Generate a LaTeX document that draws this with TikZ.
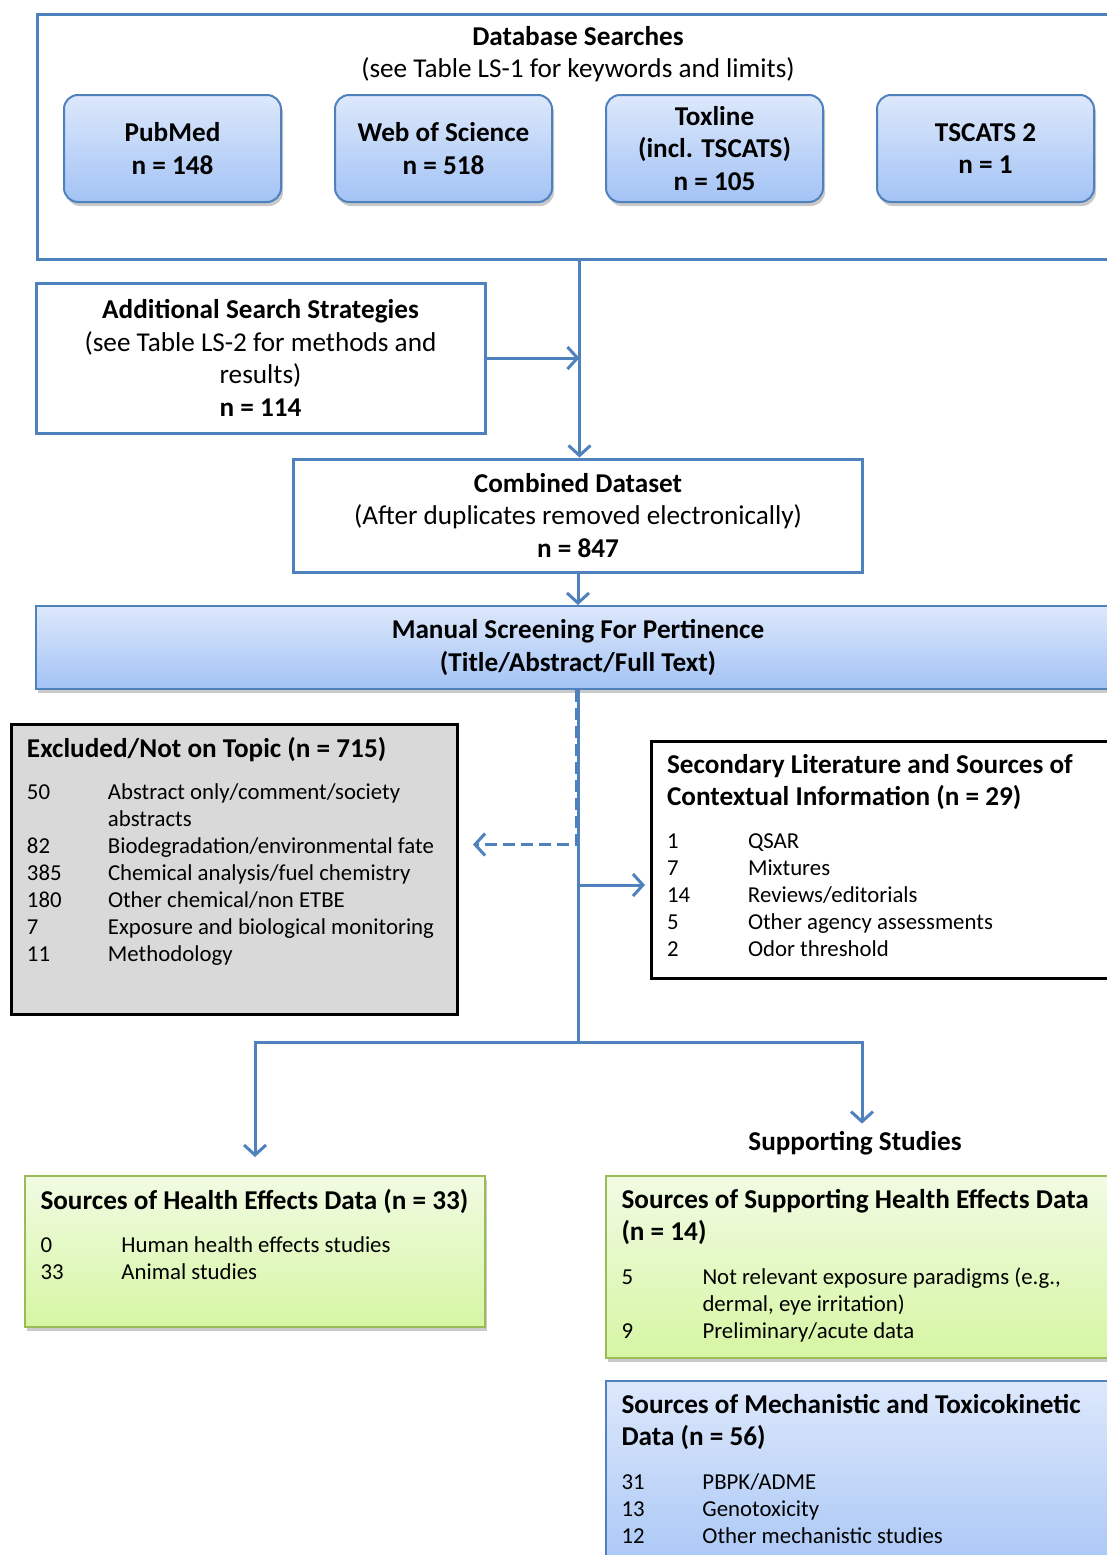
\documentclass[tikz,border=0pt]{standalone}
\usepackage{fontspec}
\setmainfont{Carlito}
\usetikzlibrary{
    arrows.meta,
    positioning,
    shadows
}
\definecolor{flowblue}{HTML}{4F81BD}
\definecolor{paleblue}{HTML}{DDE8FB}
\definecolor{midblue}{HTML}{A3C3F5}
\definecolor{palegreen}{HTML}{F1FBE3}
\definecolor{limegreen}{HTML}{D6F6A3}
\definecolor{olivegreen}{HTML}{9BBB59}
\definecolor{panelgrey}{HTML}{D9D9D9}
\tikzset{
    % Fonts
    big text/.style={font=\fontsize{27.2}{32.5}\selectfont},
    big bold/.style={font=\fontsize{27.2}{32.5}\selectfont\bfseries},
    %
    % Boxes
    soft shadow/.style={drop shadow={shadow xshift=2pt,shadow yshift=-4pt,opacity=.35,fill=black!60}},
    frame box/.style={draw=flowblue,line width=3pt,fill=white,align=center,big text},
    source box/.style={draw=flowblue,line width=2pt,rounded corners=14pt,top color=paleblue,bottom color=midblue,
        soft shadow,minimum width=217pt,minimum height=107pt,align=center,big bold},
    list panel/.style={anchor=north west,inner xsep=15.5pt,inner ysep=13pt,font=\fontsize{22.8}{27}\selectfont},
    grey panel/.style={list panel,draw=black,line width=3pt,fill=panelgrey},
    white panel/.style={list panel,draw=black,line width=3pt,fill=white},
    green panel/.style={list panel,draw=olivegreen,line width=2pt,top color=palegreen,bottom color=limegreen,soft shadow},
    blue panel/.style={list panel,draw=flowblue,line width=2pt,top color=paleblue,bottom color=midblue,soft shadow},
    %
    % Connectors
    link/.style={draw=flowblue,line width=3pt},
    flow/.style={link,-{Straight Barb[length=10pt,width=22pt]}},
    dashed flow/.style={flow,dash pattern=on 12pt off 6pt}
}
\newcommand\panelbox[3]{\parbox[t][#2][t]{#1}{\raggedright #3}}
\newcommand\paneltitle[1]{{\fontsize{27.2}{32.5}\selectfont\bfseries #1}}
\newcommand\listrow[2]{\makebox[81pt][l]{#1}#2}

\begin{document}
\begin{tikzpicture}[x=1pt,y=-1pt]
    \useasboundingbox (0,0) rectangle (1107,1555);
    \clip (0,0) rectangle (1107,1555);

    % database searches
    \node[frame box,anchor=north west,minimum width=1084pt,minimum height=245pt] (db) at (36,13) {};
    \node[big text,align=center] (dbhead) at (578,54) {\textbf{Database Searches}\\(see Table LS-1 for keywords and limits)};
    \node[source box] (pubmed) at (172.5,148.5) {PubMed\\n = 148};
    \node[source box,right=52pt of pubmed] (wos) {Web of Science\\n = 518};
    \node[source box,right=52pt of wos] (toxline) {Toxline\\(incl. TSCATS)\\n = 105};
    \node[source box,right=52pt of toxline] (tscats) {TSCATS 2\\n = 1};

    \node[frame box,minimum width=449pt,minimum height=150pt] (add) at (260.5,358)
        {\textbf{Additional Search Strategies}\\(see Table LS-2 for methods and\\results)\\\textbf{n = 114}};
    \node[frame box,minimum width=569pt,minimum height=113pt] (comb) at (578,515.5)
        {\textbf{Combined Dataset}\\(After duplicates removed electronically)\\\textbf{n = 847}};
    \node[draw=flowblue,line width=2pt,top color=paleblue,bottom color=midblue,soft shadow,
        minimum width=1084pt,minimum height=83pt,align=center,big bold] (screen) at (578,647.5)
        {Manual Screening For Pertinence\\(Title/Abstract/Full Text)};

    % screening results
    \node[grey panel] (excl) at (10,723) {\panelbox{415pt}{264pt}{%
        \paneltitle{Excluded/Not on Topic (n = 715)}\\[15pt]
        \listrow{50}{Abstract only/comment/society}\\
        \listrow{}{abstracts}\\
        \listrow{82}{Biodegradation/environmental fate}\\
        \listrow{385}{Chemical analysis/fuel chemistry}\\
        \listrow{180}{Other chemical/non ETBE}\\
        \listrow{7}{Exposure and biological monitoring}\\
        \listrow{11}{Methodology}}};
    \node[white panel] (sec) at (650,740) {\panelbox{439pt}{211pt}{%
        \paneltitle{Secondary Literature and Sources of}\\[5pt]
        \paneltitle{Contextual Information (n = 29)}\\[16pt]
        \listrow{1}{QSAR}\\
        \listrow{7}{Mixtures}\\
        \listrow{14}{Reviews/editorials}\\
        \listrow{5}{Other agency assessments}\\
        \listrow{2}{Odor threshold}}};

    \node[green panel] (health) at (24,1175) {\panelbox{429pt}{125pt}{%
        \paneltitle{Sources of Health Effects Data (n = 33)}\\[16pt]
        \listrow{0}{Human health effects studies}\\
        \listrow{33}{Animal studies}}};
    \node[big bold] (supp) at (855,1143) {Supporting Studies};
    \node[green panel] (suppdata) at (605,1175) {\panelbox{484pt}{156pt}{%
        \paneltitle{Sources of Supporting Health Effects Data}\\[5pt]
        \paneltitle{(n = 14)}\\[17pt]
        \listrow{5}{Not relevant exposure paradigms (e.g.,}\\
        \listrow{}{dermal, eye irritation)}\\
        \listrow{9}{Preliminary/acute data}}};
    \node[blue panel] (mech) at (605,1380) {\panelbox{484pt}{184pt}{%
        \paneltitle{Sources of Mechanistic and Toxicokinetic}\\[5pt]
        \paneltitle{Data (n = 56)}\\[17pt]
        \listrow{31}{PBPK/ADME}\\
        \listrow{13}{Genotoxicity}\\
        \listrow{12}{Other mechanistic studies}}};

    % connectors
    \coordinate (split) at (578,1042);
    \draw[flow] (db.south) -- (db.south |- comb.north);
    \draw[flow] (add.east) -- (add.east -| db.south);
    \draw[flow] (comb.south) -- (screen.north);
    \draw[dashed flow,shorten >=14pt] ([xshift=-2pt]screen.south) |- ([yshift=25pt]excl.east);
    \draw[link] (screen.south) -- (split);
    \draw[flow,shorten >=5pt] ([yshift=-25pt]sec.west -| split) -- ([yshift=-25pt]sec.west);
    \draw[flow,shorten >=18pt] (split) -| (health.north);
    \draw[flow,shorten >=4pt] (split) -| ([xshift=7pt]supp.north);
\end{tikzpicture}
\end{document}
